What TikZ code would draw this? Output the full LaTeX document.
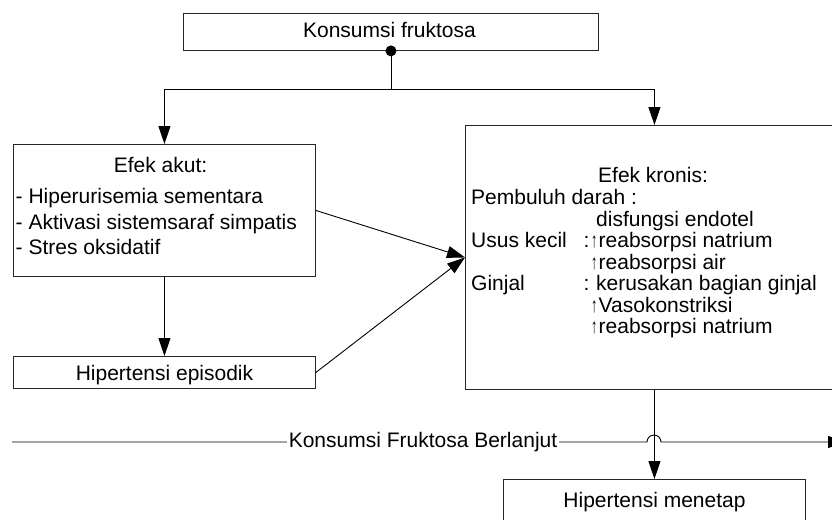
\documentclass[tikz,border=0pt]{standalone}
\usepackage{fontspec}
\usepackage{graphicx}
\setmainfont{Liberation Sans}
\usetikzlibrary{arrows.meta}
\newcommand{\upar}{\makebox[9pt][c]{\smash{\scalebox{0.6}[1.0]{↑}}}}
\begin{document}
\begin{tikzpicture}[x=1pt,y=1pt,
  box/.style={draw=black!85, line width=0.9pt, rectangle, inner sep=0pt, anchor=north west},
  ln/.style={draw=black, line width=0.9pt},
  arr/.style={ln, -{Triangle[width=12pt,length=18pt]}},
  txt/.style={inner sep=0pt, anchor=base west, font=\fontsize{21}{25}\selectfont},
  ctxt/.style={txt, anchor=base}]
\useasboundingbox (0,0) rectangle (832,-519);
\clip (0,0) rectangle (832,-519);
\fill[white] (0,0) rectangle (832,-519);
% boxes
\node[box, minimum width=415pt, minimum height=37.3pt] (top) at (183,-12.7) {};
\node[box, minimum width=302pt, minimum height=132pt] (akut) at (13,-144) {};
\node[box, minimum width=302pt, minimum height=32pt] (episodik) at (13,-356) {};
\node[box, minimum width=378pt, minimum height=264pt] (kronis) at (465,-125) {};
\node[box, minimum width=302pt, minimum height=52pt] (menetap) at (503,-479) {};
% texts
\node[ctxt] (ttop) at (389.5,-37.5) {Konsumsi fruktosa};
\node[ctxt] (ta0) at (160.5,-172) {Efek akut:};
\node[txt] (ta1) at (15.5,-203) {- Hiperurisemia sementara};
\node[txt] (ta2) at (15.5,-229) {- Aktivasi sistemsaraf simpatis};
\node[txt] (ta3) at (15.5,-254) {- Stres oksidatif};
\node[ctxt] (tep) at (164.5,-380.5) {Hipertensi episodik};
\node[ctxt] (tk0) at (653,-182) {Efek kronis:};
\node[txt] (tk1) at (471,-204.5) {Pembuluh darah :};
\node[txt] (tk2) at (596,-226) {disfungsi endotel};
\node[txt] (tk3a) at (471,-247.5) {Usus kecil};
\node[txt] (tk3b) at (583.5,-247.5) {:};
\node[txt] (tk3c) at (589.5,-247.5) {\upar reabsorpsi natrium};
\node[txt] (tk4) at (589.5,-269) {\upar reabsorpsi air};
\node[txt] (tk5a) at (471,-290.5) {Ginjal};
\node[txt] (tk5b) at (583.5,-290.5) {:};
\node[txt] (tk5c) at (596,-290.5) {kerusakan bagian ginjal};
\node[txt] (tk6) at (589.5,-312) {\upar Vasokonstriksi};
\node[txt] (tk7) at (589.5,-333.5) {\upar reabsorpsi natrium};
\node[ctxt] (tmen) at (654.5,-507.3) {Hipertensi menetap};
% connectors
\coordinate (split) at (top.south |- 0,-89);
\draw[ln] (top.south) -- (split);
\draw[arr] (split) -| (akut.north);
\draw[arr] (split) -| (kronis.north);
\fill (top.south) circle (5.5);
\draw[arr] (akut.south) -- (episodik.north);
\draw[arr] (akut.east) -- (kronis.west);
\draw[arr] (episodik.east) -- (kronis.west);
\draw[arr] (kronis.south) -- (menetap.north);
% continued consumption line with jump
\coordinate (bl) at (12,-442);
\coordinate (jl) at (647,-442);
\coordinate (br) at (846,-442);
\draw[arr] (bl) -- (jl) arc (180:0:7) -- (br);
\node[fill=white, inner xsep=1.5pt, inner ysep=0pt, font=\fontsize{21}{25}\selectfont] (lbl) at (423,-442) {Konsumsi Fruktosa Berlanjut};
\end{tikzpicture}
\end{document}
